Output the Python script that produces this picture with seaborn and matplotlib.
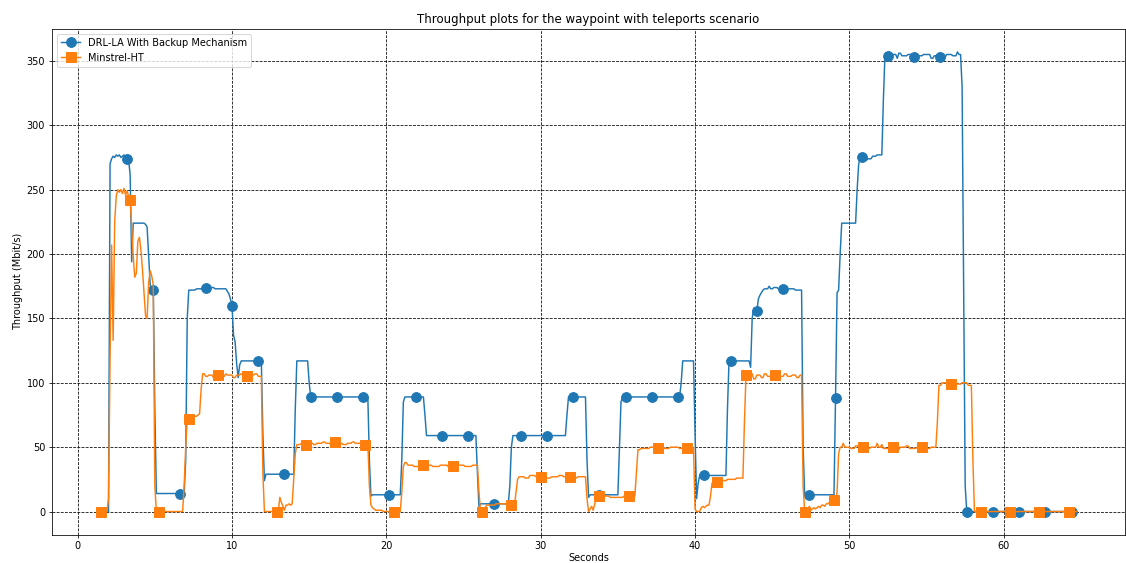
import numpy as np
import matplotlib
matplotlib.use("Agg")
import matplotlib.pyplot as plt
import seaborn as sns

# Sampling of both throughput traces (seconds)
t_start = 1.5
t_step = 0.1

# DRL-LA With Backup Mechanism: throughput levels (Mbit/s) and how many samples each lasts
drl_level = [0,
             270, 274, 276, 275, 277, 276, 277, 275, 276, 277, 275, 274, 273,
             262, 194, 224,
             223, 221, 198, 176, 173, 172, 80,
             14, 40, 150,
             172, 173, 174, 173,
             171, 169, 165, 160, 137, 132, 115, 104, 114,
             117, 60, 24, 29, 80, 117, 100, 89, 40, 12, 13, 40, 85, 89, 75, 59,
             30, 4, 6, 20, 50, 59, 75, 89, 40, 11, 13, 50, 85, 89, 100, 117,
             60, 10, 22, 28, 80, 117,
             112, 150, 158, 155, 156, 165, 168, 170, 172,
             173, 175, 173, 174, 173, 174, 173, 172,
             50, 13, 88, 170, 172, 200, 224, 250, 270,
             275, 273, 274, 276, 277, 320,
             354, 357, 353, 355, 352, 356, 354, 355, 353, 356, 354, 355, 352, 354,
             356, 353, 355, 354, 357, 355,
             330, 180, 20, 0]
drl_run = [6,
           1, 1, 1, 1, 1, 1, 1, 1, 1, 1, 1, 1, 1,
           1, 1, 8,
           1, 1, 1, 1, 1, 1, 1,
           19, 1, 1,
           5, 6, 6, 8,
           1, 1, 1, 1, 1, 1, 1, 1, 1,
           14, 1, 1, 19, 1, 8, 1, 38, 1, 1, 19, 1, 1, 13, 1, 33,
           1, 1, 19, 1, 1, 35, 1, 12, 1, 1, 19, 1, 1, 38, 1, 8,
           1, 1, 1, 18, 1, 14,
           1, 1, 1, 1, 1, 1, 1, 1, 1,
           3, 1, 2, 3, 4, 2, 5, 5,
           1, 20, 1, 1, 1, 1, 10, 1, 1,
           3, 2, 3, 3, 4, 1,
           3, 1, 1, 3, 1, 2, 4, 3, 2, 1, 4, 5, 2, 3,
           1, 4, 4, 3, 1, 2,
           1, 1, 1, 72]

# Minstrel-HT: throughput levels (Mbit/s) and how many samples each lasts
mht_level = [0,
             10, 120, 207, 133, 225, 245, 250, 248, 250, 247, 251, 246, 249, 245, 242,
             222, 198, 182, 185, 210, 213, 203, 188, 170, 152, 150, 178, 187, 183, 176, 20,
             0, 20, 50,
             72, 73, 74, 75, 76, 95,
             107, 105, 106, 104, 107, 106, 105, 107, 106, 104, 106, 107, 105, 106, 107, 105,
             30, 0,
             11, 7, 4, 1, 5, 6, 5, 6, 25, 45,
             52, 53, 52, 54, 53, 52, 53, 54, 53, 52, 54, 53, 52, 53, 54, 53, 52, 54,
             20, 5, 3, 2, 1, 0, 15, 35,
             38, 36, 35, 36, 35, 36, 35, 36, 35, 36,
             15, 0, 1, 3, 5, 6, 5, 15, 25,
             27, 26, 28, 27, 26, 27, 28, 27, 26, 27,
             10, 0, 2, 4, 1, 6, 10, 12, 11, 12, 30,
             48, 49, 50, 49, 50, 49,
             2, 0, 3, 4, 3, 4, 5, 12, 22,
             23, 24, 25, 26, 70,
             106, 104, 107, 103, 106, 104, 107, 105, 103, 106, 105, 107, 105, 106, 104, 106,
             20, 0, 1, 4, 1, 2, 3, 2, 3, 4, 3, 5, 4, 6, 7, 8, 9, 15, 45,
             50, 53, 50, 49, 51, 50, 49, 50, 53, 50, 52, 49, 50, 48, 50, 51, 49, 50, 49, 50,
             70, 98, 100, 99, 101, 99, 100, 98, 40, 0]
mht_run = [5,
           1, 1, 1, 1, 1, 1, 1, 1, 1, 1, 1, 1, 1, 1, 1,
           1, 1, 1, 1, 1, 1, 1, 1, 1, 1, 1, 1, 1, 1, 1, 1,
           18, 1, 1,
           2, 2, 3, 1, 1, 1,
           2, 2, 3, 1, 2, 3, 2, 1, 4, 2, 3, 2, 3, 4, 2, 3,
           1, 10,
           1, 1, 1, 1, 2, 1, 1, 1, 1, 1,
           3, 2, 2, 1, 3, 2, 4, 2, 3, 2, 2, 4, 3, 3, 2, 4, 3, 2,
           1, 1, 1, 1, 5, 12, 1, 1,
           2, 4, 6, 6, 5, 5, 6, 5, 5, 4,
           1, 2, 1, 1, 6, 7, 6, 1, 1,
           4, 3, 4, 6, 4, 5, 3, 5, 4, 6,
           1, 1, 1, 1, 1, 1, 1, 8, 9, 8, 1,
           2, 6, 5, 8, 6, 10,
           1, 3, 1, 1, 1, 1, 2, 1, 1,
           3, 6, 6, 5, 1,
           2, 2, 1, 2, 3, 2, 2, 3, 1, 4, 3, 2, 3, 3, 2, 2,
           1, 2, 1, 1, 1, 1, 1, 1, 1, 1, 1, 2, 1, 2, 2, 1, 2, 1, 1,
           2, 1, 4, 3, 2, 5, 3, 4, 1, 2, 1, 4, 5, 2, 4, 2, 5, 6, 3, 4,
           1, 2, 3, 4, 1, 5, 4, 3, 1, 67]

series_labels = ["DRL-LA With Backup Mechanism", "Minstrel-HT"]
series_colors = ["#1f77b4", "#ff7f0e"]

drl = np.repeat(drl_level, drl_run).astype(float)
mht = np.repeat(mht_level, mht_run).astype(float)
t_drl = t_start + t_step * np.arange(len(drl))
t_mht = t_start + t_step * np.arange(len(mht))

fig = plt.figure(figsize=(16, 8), dpi=1126 / 16)
ax = fig.add_axes([0.0462, 0.0506, 0.9530, 0.8980])

sns.lineplot(x=t_drl, y=drl, ax=ax, color=series_colors[0], marker="o",
             markersize=10, markevery=17, markeredgecolor=series_colors[0],
             markeredgewidth=1, linewidth=1.5, estimator=None, sort=False,
             label=series_labels[0])
sns.lineplot(x=t_mht, y=mht, ax=ax, color=series_colors[1], marker="s",
             markersize=10, markevery=19, markeredgecolor=series_colors[1],
             markeredgewidth=1, linewidth=1.5, estimator=None, sort=False,
             label=series_labels[1])

ax.grid(True, color="black", linestyle="--", linewidth=0.8)
ax.set_title("Throughput plots for the waypoint with teleports scenario", fontsize=12)
ax.set_xlabel("Seconds", labelpad=2)
ax.set_ylabel("Throughput (Mbit/s)")
ax.legend(loc="upper left")

fig.savefig("out.png", dpi=1126 / 16)
